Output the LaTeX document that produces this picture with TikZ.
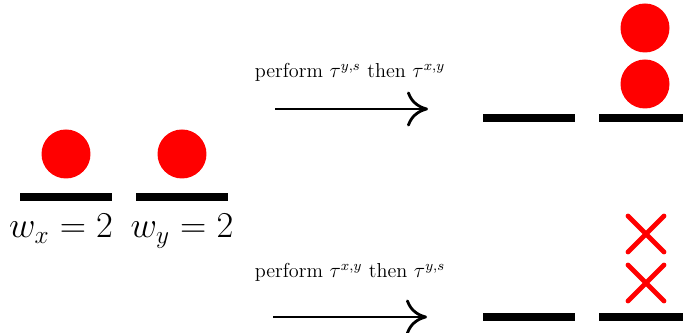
\documentclass[tikz,border=0pt]{standalone}
\usepackage{amsmath}
\usetikzlibrary{arrows.meta,shapes.misc}
\definecolor{ballred}{HTML}{FF0000}
\tikzset{
  weightbar/.style={rectangle,fill=black,minimum width=1.86cm,
    minimum height=0.16cm,inner sep=0pt},
  ballnode/.style={circle,fill=ballred,minimum size=0.98cm,inner sep=0pt},
  crossnode/.style={cross out,draw=ballred,line width=2.8pt,line cap=round,
    minimum size=0.62cm,inner sep=0pt},
  movearrow/.style={draw=black,line width=1.1pt,
    -{To[length=4.2mm,width=7mm,line width=1.6pt]}},
}
\begin{document}
\begin{tikzpicture}[x=0.02cm,y=-0.02cm,
        weightlabel/.style={anchor=base,font=\fontsize{20.5}{25}\selectfont},
        steplabel/.style={anchor=base,font=\fontsize{11.5}{14}\selectfont}]
        \useasboundingbox (0,0) rectangle (683,333);
        % start
        \node[weightbar] (bx) at (66,197) {};
        \node[weightbar] (by) at (182,197) {};
        \node[ballnode] (cx) at (66,154) {};
        \node[ballnode] (cy) at (182,154) {};
        \node[weightlabel] (wx) at (61,238) {$w_x = 2$};
        \node[weightlabel] (wy) at (182,238) {$w_y = 2$};
        % top move
        \coordinate (ta) at (275,109);
        \coordinate (tb) at (428,109);
        \draw[movearrow] (ta) -- (tb);
        \node[steplabel] (tl) at (350,78) {perform $\tau^{y,s}$ then $\tau^{x,y}$};
        \node[weightbar] (tbx) at (529,118) {};
        \node[weightbar] (tby) at (645,118) {};
        \node[ballnode] (tc1) at (645,84) {};
        \node[ballnode] (tc2) at (645,28) {};
        % bottom move
        \coordinate (ua) at (273,317);
        \coordinate (ub) at (427,317);
        \draw[movearrow] (ua) -- (ub);
        \node[steplabel] (ul) at (350,278) {perform $\tau^{x,y}$ then $\tau^{y,s}$};
        \node[weightbar] (ubx) at (529,317) {};
        \node[weightbar] (uby) at (645,317) {};
        \node[crossnode] (ux1) at (646,283) {};
        \node[crossnode] (ux2) at (646,234) {};
      \end{tikzpicture}
\end{document}
